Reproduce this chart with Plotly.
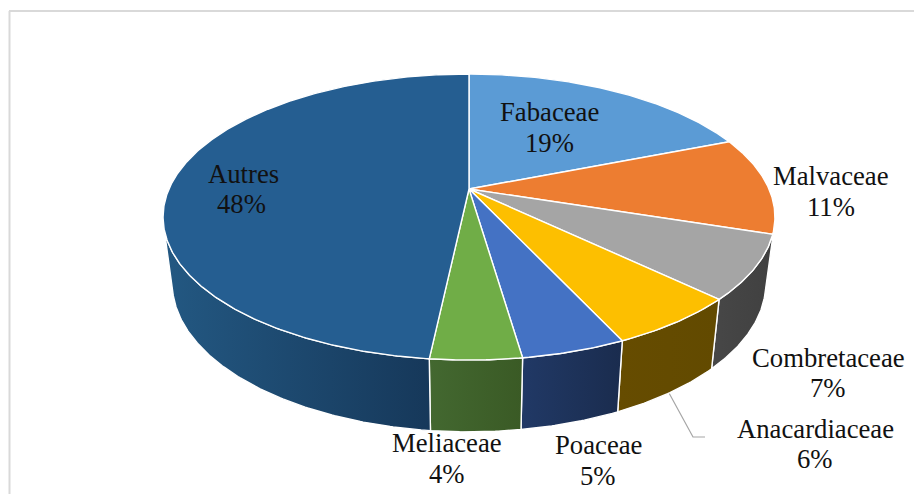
import math
import plotly.graph_objects as go

# ---- data ----
categories = ["Fabaceae", "Malvaceae", "Combretaceae", "Anacardiaceae", "Poaceae", "Meliaceae", "Autres"]
values = [19.0, 11.0, 7.2, 5.9, 4.6, 4.0, 48.3]
pct_labels = ["19%", "11%", "7%", "6%", "5%", "4%", "48%"]
top_colors = ["#5B9BD5", "#ED7D31", "#A5A5A5", "#FDBF00", "#4472C4", "#70AD47", "#255E91"]
side_left = ["#5B9BD5", "#ED7D31", "#474747", "#664C00", "#213966", "#436830", "#235882"]
side_right = ["#5B9BD5", "#ED7D31", "#404040", "#624A00", "#1A2C4E", "#3A5A25", "#16385A"]

# ---- projection of the tilted disc ----
CX = 469.0
K = 0.196
TOP = dict(A=300.0, B=137.5, y0=189.0)
BOT = dict(A=291.0, B=143.0, y0=254.0)
LEFT_SIL_DEG = 254.0   # left silhouette of the drum
RIGHT_SIL_DEG = 104.0  # right silhouette of the drum


def project(deg, disc):
    t = math.radians(deg)
    u, v = math.sin(t), math.cos(t)
    w = 1 + K * v
    return CX + disc["A"] * u / w, disc["y0"] - disc["B"] * v / w


def arc(a, b, disc):
    n = max(2, int(abs(b - a) * 2))
    pts = [project(a + (b - a) * i / n, disc) for i in range(n + 1)]
    return [p[0] for p in pts], [p[1] for p in pts]


total = sum(values)
edges = [0.0]
for val in values:
    edges.append(edges[-1] + val / total * 360.0)

fig = go.Figure()

# leader line for Anacardiaceae
fig.add_trace(go.Scatter(x=[669, 693, 705], y=[393, 437, 437], mode="lines",
                         line=dict(color="#A6A6A6", width=1.2), hoverinfo="skip"))

# sides
for i in range(2, len(values)):
    a = RIGHT_SIL_DEG if i == 2 else edges[i]
    b = min(edges[i + 1], LEFT_SIL_DEG)
    tx, ty = arc(a, b, TOP)
    bx, by = arc(a, b, BOT)
    xs = tx + bx[::-1] + [tx[0]]
    ys = ty + by[::-1] + [ty[0]]
    fig.add_trace(go.Scatter(
        x=xs, y=ys, mode="lines", fill="toself",
        line=dict(color="white", width=1.4),
        fillgradient=dict(type="horizontal",
                          colorscale=[[0, side_left[i]], [1, side_right[i]]]),
        hoverinfo="skip", name=categories[i] + " side"))

# top faces
for i in range(len(values)):
    ax, ay = arc(edges[i], edges[i + 1], TOP)
    xs = [CX] + ax + [CX]
    ys = [TOP["y0"]] + ay + [TOP["y0"]]
    fig.add_trace(go.Scatter(
        x=xs, y=ys, mode="lines", fill="toself", fillcolor=top_colors[i],
        line=dict(color="white", width=1.4), hoverinfo="skip", name=categories[i]))

# labels: centre of name line, centre of percent line
LABEL_POS = [(549, 112, 549, 143), (831, 176, 831, 207), (828, 358, 828, 388),
             (815, 429, 815, 459), (598, 445, 598, 476), (447, 443, 447, 474),
             (243, 174, 241, 204)]
FONT = dict(family="Liberation Serif", size=26.7, color="#111111")
for name, pct, (x1, y1, x2, y2) in zip(categories, pct_labels, LABEL_POS):
    fig.add_annotation(x=x1, y=y1, text=name, showarrow=False, font=FONT)
    fig.add_annotation(x=x2, y=y2, text=pct, showarrow=False, font=FONT)

# frame
for x0, y0, x1, y1 in [(9.5, 11, 9.5, 494), (9, 11, 922, 11)]:
    fig.add_shape(type="line", x0=x0, y0=y0, x1=x1, y1=y1, layer="below",
                  line=dict(color="#D9D9D9", width=2))

# the page has an 8px body margin: the plot area starts at pixel (8, 8)
fig.update_layout(
    width=914, height=486, margin=dict(l=0, r=0, t=0, b=0),
    paper_bgcolor="white", plot_bgcolor="white", showlegend=False,
    xaxis=dict(range=[8, 922], visible=False, fixedrange=True),
    yaxis=dict(range=[494, 8], visible=False, fixedrange=True),
)
fig.write_html("out.html", config={"displayModeBar": False})
